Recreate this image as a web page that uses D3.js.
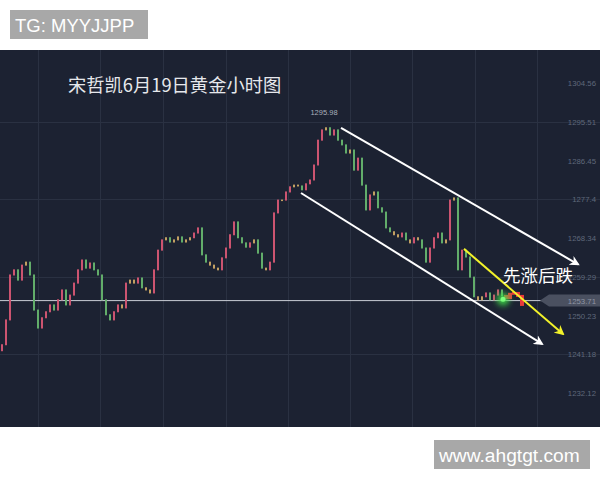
<!DOCTYPE html>
<html><head><meta charset="utf-8">
<script src="https://cdn.jsdelivr.net/npm/d3@7"></script>
<style>html,body{margin:0;padding:0;background:#fff;}svg{display:block;}</style>
</head><body>
<svg id="c" width="600" height="480"></svg>
<script>
// ---- data ----
const firstOpen = 1242.0;
const closes = [1243.4,1249.2,1259.7,1260.9,1258.5,1262.0,1262.7,1259.7,1251.5,1247.3,
1249.7,1251.1,1252.7,1251.5,1253.9,1256.2,1252.7,1255.0,1257.8,1260.9,
1263.2,1261.3,1262.5,1260.9,1259.7,1253.9,1250.4,1249.2,1251.1,1252.7,
1252.0,1257.8,1258.5,1257.8,1259.0,1256.7,1256.2,1255.5,1260.9,1265.5,
1267.9,1268.4,1267.4,1267.9,1268.6,1267.4,1267.9,1268.4,1269.5,1270.7,
1264.4,1262.7,1262.0,1261.3,1260.9,1263.7,1266.0,1269.1,1272.1,1268.4,
1267.2,1266.2,1267.2,1267.9,1264.8,1261.3,1260.9,1262.7,1274.2,1277.2,
1277.2,1279.1,1280.3,1280.7,1280.5,1279.6,1281.0,1281.9,1285.4,1291.2,
1293.6,1294.1,1292.4,1293.6,1291.2,1290.1,1288.2,1288.9,1284.2,1287.0,
1280.7,1274.9,1278.4,1279.1,1275.4,1274.4,1270.7,1269.8,1269.1,1268.6,
1269.5,1267.9,1267.2,1268.4,1267.9,1266.0,1262.7,1266.0,1268.4,1269.5,
1267.2,1267.9,1277.2,1277.7,1260.9,1265.5,1263.9,1259.2,1254.6,1253.9,
1254.6,1255.5,1253.9,1255.0,1256.2,1254.8];
const projection = [1254.3,1255.3,1255.5,1254.8,1252.7];
const tickLabels = ["1304.56","1295.51","1286.45","1277.4","1268.34","1259.29","1250.23","1241.18","1232.12","1223.07"];
const gridPrices = [1295.51,1277.4,1259.29,1241.18];
const gridIdx = [9,24.5,40.25,56,71.5,87,102.5,118.25,133.75];
const currentPrice = 1253.71;
const peakLabel = {idx:80.5, price:1295.98, text:"1295.98"};
const channelUpper = [[84.75,1294.05],[144,1262.2]];
const channelLower = [[74.75,1278.86],[135,1243.6]];
const yellowLine = [[115.5,1265.8],[140.25,1245.9]];
const glowPoint = [125.25,1254.0];
const title = "宋哲凯6月19日黄金小时图";
const note = "先涨后跌";

// ---- layout ----
const svg = d3.select("#c");
const areaTop = 50, areaBottom = 427;
const total = closes.length + projection.length;
const x = d3.scaleLinear().domain([0, total-1]).range([2, 522]);
const y = d3.scaleLinear().domain([1304.56, 1232.12]).range([83, 393]);

svg.append("rect").attr("width",600).attr("height",480).attr("fill","#fff");
const defs = svg.append("defs");
defs.append("clipPath").attr("id","clip")
  .append("rect").attr("x",0).attr("y",areaTop).attr("width",600).attr("height",areaBottom-areaTop);
const mk = (id,col)=>defs.append("marker").attr("id",id).attr("viewBox","0 0 10 10")
  .attr("refX",8).attr("refY",5).attr("markerWidth",5).attr("markerHeight",5)
  .attr("orient","auto").attr("markerUnits","strokeWidth")
  .append("path").attr("d","M0,0 L10,5 L0,10 L3,5 z").attr("fill",col);
mk("aw","#ffffff"); mk("ay","#f2f22a");
const glow = defs.append("filter").attr("id","glow").attr("x","-100%").attr("y","-100%").attr("width","300%").attr("height","300%");
glow.append("feGaussianBlur").attr("stdDeviation",3);

const g = svg.append("g").attr("clip-path","url(#clip)");
g.append("rect").attr("x",0).attr("y",areaTop).attr("width",600).attr("height",areaBottom-areaTop).attr("fill","#1c2232");

// grid
g.selectAll(".vg").data(gridIdx).join("line")
  .attr("x1",d=>Math.round(x(d))+0.5).attr("x2",d=>Math.round(x(d))+0.5).attr("y1",areaTop).attr("y2",areaBottom)
  .attr("stroke","#2a3142").attr("stroke-width",1);
g.selectAll(".hg").data(gridPrices).join("line")
  .attr("x1",0).attr("x2",600).attr("y1",d=>Math.round(y(d))+0.5).attr("y2",d=>Math.round(y(d))+0.5)
  .attr("stroke","#2a3142").attr("stroke-width",1);

// axis labels
const axis = d3.axisRight(y).tickValues(tickLabels.map(Number)).tickSize(0)
  .tickFormat((d,i)=>tickLabels[i]);
const ag = g.append("g").attr("transform","translate(596,0)").call(axis);
ag.select(".domain").remove();
ag.selectAll("text").attr("x",0).attr("text-anchor","end").attr("fill","#5f687a")
  .attr("font-family","Liberation Sans, Arial, sans-serif").attr("font-size",7.8);

// current price line + tag
const ty = y(currentPrice);
g.append("line").attr("x1",0).attr("x2",545).attr("y1",ty).attr("y2",ty)
  .attr("stroke","#c9cdd6").attr("stroke-width",1);
g.append("path").attr("d",`M540,${ty} L549,${ty-6} L600,${ty-6} L600,${ty+6} L549,${ty+6} Z`)
  .attr("fill","#4a5060");
g.append("text").attr("x",596).attr("y",ty+3).attr("text-anchor","end").text(currentPrice.toFixed(2))
  .attr("fill","#8e95a3").attr("font-family","Liberation Sans, Arial, sans-serif").attr("font-size",7.8);

// candles
const candles = closes.map((c,i)=>({i, o: i===0?firstOpen:closes[i-1], c}));
const col = d=>{const diff=d.c-d.o; if(Math.abs(diff)<0.8) return "#c2a062"; return diff>0?"#cc5470":"#62ad6a";};
g.selectAll(".cd").data(candles).join("rect")
  .attr("x",d=>x(d.i)-1).attr("width",2)
  .attr("y",d=>Math.min(y(d.o),y(d.c))-0.5)
  .attr("height",d=>Math.max(1.5,Math.abs(y(d.o)-y(d.c))+1))
  .attr("fill",col);

// projection (red)
const proj = projection.map((c,k)=>({i:closes.length+k, o: k===0?closes[closes.length-1]:projection[k-1], c}));
g.selectAll(".pj").data(proj).join("rect")
  .attr("x",d=>x(d.i)-2).attr("width",4)
  .attr("y",d=>Math.min(y(d.o),y(d.c))-1)
  .attr("height",d=>Math.max(2.5,Math.abs(y(d.o)-y(d.c))+2))
  .attr("fill","#e83a3a");

// glow point
g.append("circle").attr("cx",x(glowPoint[0])).attr("cy",y(glowPoint[1])).attr("r",6)
  .attr("fill","#3fe04a").attr("filter","url(#glow)");
g.append("circle").attr("cx",x(glowPoint[0])).attr("cy",y(glowPoint[1])).attr("r",2.5).attr("fill","#7cff7c");

// channel lines
const line = d3.line().x(d=>x(d[0])).y(d=>y(d[1]));
g.append("path").attr("d",line(channelUpper)).attr("stroke","#ffffff").attr("stroke-width",2).attr("fill","none").attr("marker-end","url(#aw)");
g.append("path").attr("d",line(channelLower)).attr("stroke","#ffffff").attr("stroke-width",2).attr("fill","none").attr("marker-end","url(#aw)");
g.append("path").attr("d",line(yellowLine)).attr("stroke","#f2f22a").attr("stroke-width",2).attr("fill","none").attr("marker-end","url(#ay)");

// peak label
g.append("text").attr("x",x(peakLabel.idx)).attr("y",y(peakLabel.price)-5).attr("text-anchor","middle")
  .text(peakLabel.text).attr("fill","#a9afbb").attr("font-family","Liberation Sans, Arial, sans-serif").attr("font-size",7.5);

// title & note
g.append("text").attr("x",68).attr("y",92).text(title).attr("fill","#e6e8ec")
  .attr("font-family","Noto Sans CJK SC, sans-serif").attr("font-size",18.3);
g.append("text").attr("x",503).attr("y",282).text(note).attr("fill","#ffffff")
  .attr("font-family","Noto Sans CJK SC, sans-serif").attr("font-size",17.5);

// watermark boxes
svg.append("rect").attr("x",10).attr("y",10).attr("width",138).attr("height",29).attr("fill","#a8a8a8");
svg.append("text").attr("x",15).attr("y",32).text("TG: MYYJJPP").attr("fill","#ffffff")
  .attr("font-family","Liberation Sans, Arial, sans-serif").attr("font-size",18.5);
svg.append("rect").attr("x",434).attr("y",440).attr("width",156).attr("height",29).attr("fill","#a8a8a8");
svg.append("text").attr("x",439).attr("y",462).text("www.ahgtgt.com").attr("fill","#ffffff")
  .attr("font-family","Liberation Sans, Arial, sans-serif").attr("font-size",19.2);
</script>
</body></html>
